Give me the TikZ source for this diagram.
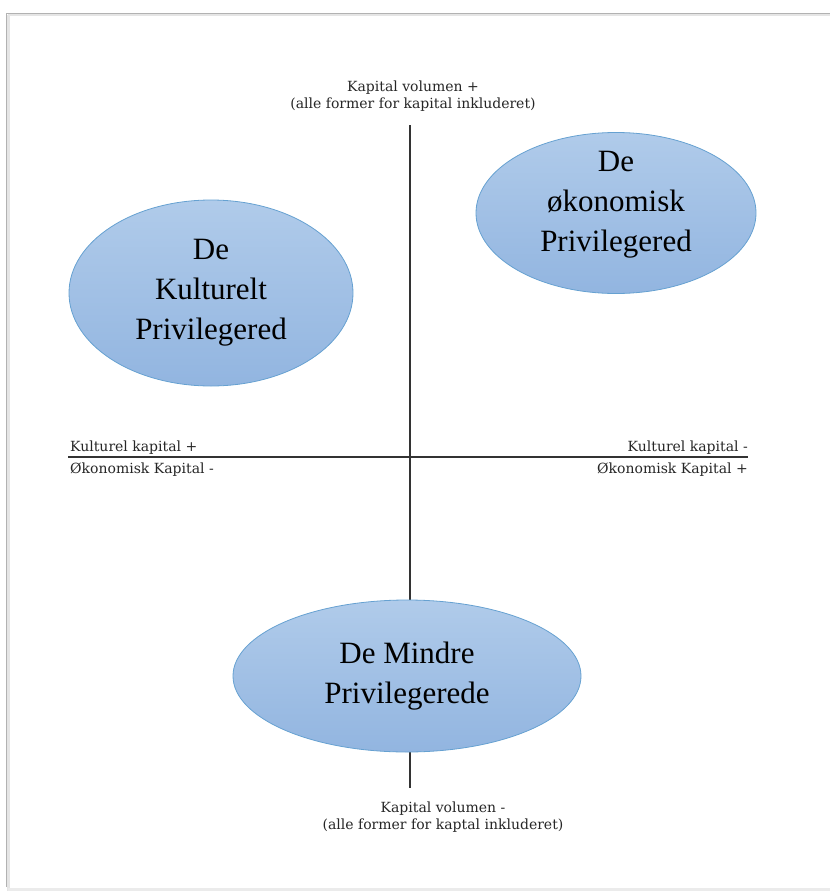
\documentclass[tikz,border=0pt]{standalone}
\usepackage{fontspec}
\setmainfont{Liberation Serif}
\newfontfamily\axisfont{DejaVu Serif}
\usetikzlibrary{shapes.geometric}

\begin{document}
\begin{tikzpicture}[x=1pt, y=-1pt,
    group node/.style={ellipse, draw=blue!45!cyan!70!black!60, line width=0.8pt,
      top color={rgb,255:red,176;green,203;blue,234}, bottom color={rgb,255:red,146;green,181;blue,224},
      inner sep=0pt, align=center, font=\fontsize{31}{40}\selectfont},
    axis label/.style={font=\axisfont\fontsize{14}{17}\selectfont, text=black!85, inner sep=0pt, align=center},
    axis line/.style={line width=2.6pt, draw=black!80},
    ]
  \useasboundingbox (0,0) rectangle (830,891);

  % frame
  \draw[line width=3pt, draw=black!10] (8,15) -- (8,891);
  \draw[line width=3pt, draw=black!10] (8,15) -- (830,15);
  \draw[line width=3pt, draw=black!8] (8,889) -- (830,889);
  \draw[line width=0.8pt, draw=black!30] (6,887) -- (6,13) -- (830,13);

  % axes
  \coordinate (top) at (410,125);
  \coordinate (bottom) at (410,788);
  \coordinate (left) at (68,457);
  \coordinate (right) at (748,457);
  \draw[axis line] (top) -- (bottom);
  \draw[axis line] (left) -- (right);

  \node[axis label] (vtop) at (413,96) {Kapital volumen +\\(alle former for kapital inkluderet)};
  \node[axis label] (vbottom) at (443,817) {Kapital volumen -\\(alle former for kaptal inkluderet)};
  \node[axis label, anchor=base west] (kl) at (70,451) {Kulturel kapital +};
  \node[axis label, anchor=base west] (ol) at (70,473) {Økonomisk Kapital -};
  \node[axis label, anchor=base east] (kr) at (748,451) {Kulturel kapital -};
  \node[axis label, anchor=base east] (or) at (748,473) {Økonomisk Kapital +};

  % groups
  \node[group node, minimum width=284pt, minimum height=186pt] (kult) at (211,293) {De\\Kulturelt\\Privilegered};
  \node[group node, minimum width=280pt, minimum height=161pt] (oko) at (616,213) {};
  \node[align=center, font=\fontsize{31}{40}\selectfont] (okotext) at (616,205) {De\\økonomisk\\Privilegered};
  \node[group node, minimum width=348pt, minimum height=152pt] (mindre) at (407,676) {De Mindre\\Privilegerede};
\end{tikzpicture}
\end{document}
